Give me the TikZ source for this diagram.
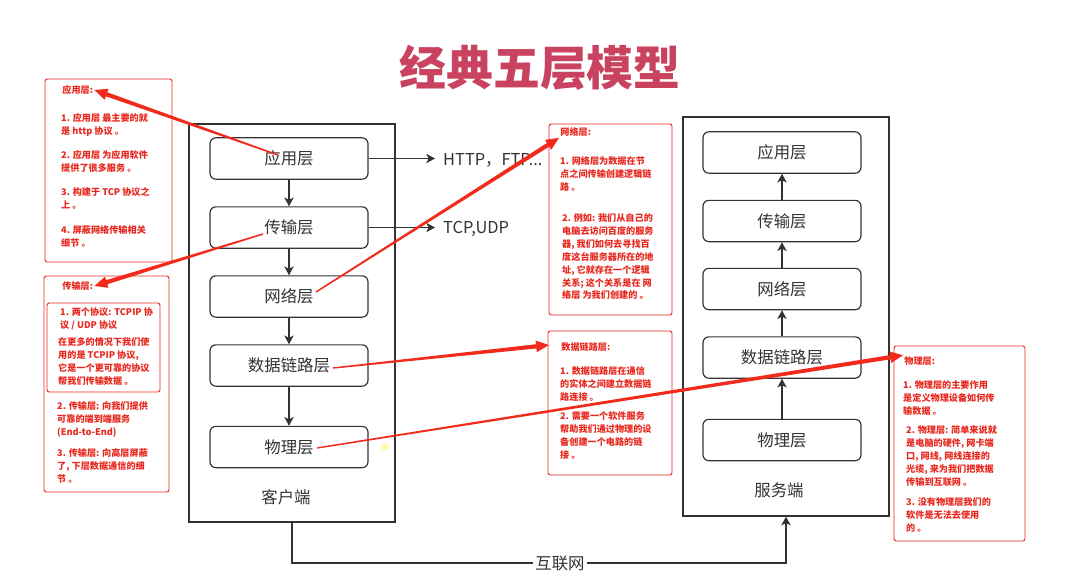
\documentclass[tikz,border=0pt]{standalone}
\usepackage{fontspec}
\setmainfont{Noto Sans CJK SC}
\usetikzlibrary{arrows.meta,calc}

\definecolor{titlered}{HTML}{C94360}
\definecolor{notered}{HTML}{E8281E}
\definecolor{arrowred}{HTML}{F22A1C}
\definecolor{linegray}{HTML}{333333}
\definecolor{textgray}{HTML}{333333}

\newcommand{\notefont}{\bfseries\fontsize{7.8}{11}\selectfont}
\newcommand{\layerfont}{\fontsize{14}{16}\selectfont}

% red callout, thin at the start and wide at the head
\newcommand{\callout}[2]{%
  \coordinate (cb) at ($(#2)!11pt!(#1)$);
  \fill[arrowred] ($(#1)!0.6pt!90:(#2)$) -- ($(cb)!1.8pt!-90:(#1)$)
    -- ($(cb)!5pt!-90:(#1)$) -- (#2) -- ($(cb)!5pt!90:(#1)$)
    -- ($(cb)!1.8pt!90:(#1)$) -- ($(#1)!0.6pt!-90:(#2)$) -- cycle;
}

\begin{document}
\begin{tikzpicture}[x=0.03cm, y=-0.03cm,
    layer/.style={draw=linegray, line width=1pt, rounded corners=5pt,
      minimum width=4.74cm, minimum height=1.24cm, font=\layerfont, text=textgray},
    side/.style={draw=linegray, line width=1pt, minimum width=6.18cm, inner sep=0pt},
    flow/.style={draw=linegray, line width=1pt, -{Stealth[length=7.5pt,width=8pt,inset=2pt]}},
    plain/.style={font=\layerfont, text=textgray},
    notebox/.style={draw=notered, line width=0.8pt, rounded corners=2pt},
    notetitle/.style={anchor=west, inner sep=1pt, font=\notefont, text=notered},
    notetext/.style={anchor=north west, inner sep=0pt, align=left, font=\notefont, text=notered}]

    \useasboundingbox[fill=white] (0,0) rectangle (1078,583);

    %----- TITLE -----
    \node[font=\bfseries\fontsize{40}{44}\selectfont, text=titlered] (title) at (540,68) {经典五层模型};

    %----- CLIENT STACK -----
    \node[side, minimum height=11.94cm] (client) at (292,323) {};
    \node[layer] (cA) at (289,158.5) {应用层};
    \node[layer] (cT) at (289,227.5) {传输层};
    \node[layer] (cN) at (289,296.5) {网络层};
    \node[layer] (cD) at (289,365.5) {数据链路层};
    \node[layer] (cP) at (289,447) {物理层};
    \node[plain] (cLabel) at (286,497) {客户端};

    \foreach \a/\b in {cA/cT, cT/cN, cN/cD, cD/cP}
        \draw[flow] (\a) -- (\b);

    %----- SERVER STACK -----
    \node[side, minimum height=11.97cm] (server) at (786,316.5) {};
    \node[layer] (sA) at (782,152.5) {应用层};
    \node[layer] (sT) at (782,221) {传输层};
    \node[layer] (sN) at (782,289) {网络层};
    \node[layer] (sD) at (782,357.5) {数据链路层};
    \node[layer] (sP) at (782,440) {物理层};
    \node[plain] (sLabel) at (779,490) {服务端};

    \foreach \a/\b in {sP/sD, sD/sN, sN/sT, sT/sA}
        \draw[flow] (\a) -- (\b);

    %----- PROTOCOLS -----
    \node[plain, anchor=west, inner ysep=0pt, inner xsep=0.24cm] (http) at (435,160) {HTTP，FTP...};
    \node[plain, anchor=west, inner ysep=0pt, inner xsep=0.24cm] (tcp) at (435,229) {TCP,UDP};
    \draw[flow] (cA.east) -- (cA.east -| http.west);
    \draw[flow] (cT.east) -- (cT.east -| tcp.west);

    %----- INTERNET -----
    \node[plain, fill=white, inner sep=2pt] (net) at (560,563) {互联网};
    \draw[linegray, line width=1pt] (client.south) |- (net.west);
    \draw[flow] (net.east) -| (server.south);

    % cursor mark
    \fill[yellow!60, opacity=0.5] (385,447) circle (4);

    %----- NOTE: APPLICATION -----
    \draw[notebox] (45,79) rectangle (172,262);
    \node[notetitle] (tA) at (61,90) {应用层:};
    \node[notetext] (pA1) at (61,113.5) {1. 应用层 最主要的就\\是 http 协议 。};
    \node[notetext] (pA2) at (61,150.5) {2. 应用层 为应用软件\\提供了很多服务 。};
    \node[notetext] (pA3) at (61,187.5) {3. 构建于 TCP 协议之\\上 。};
    \node[notetext] (pA4) at (61,225.5) {4. 屏蔽网络传输相关\\细节 。};

    %----- NOTE: TRANSPORT -----
    \draw[notebox] (44,276) rectangle (169,492);
    \draw[notebox] (47,303) rectangle (160,392);
    \node[notetitle] (tT) at (61,286) {传输层:};
    \node[notetext] (pT1) at (60,307.5) {1. 两个协议: TCPIP 协\\议 / UDP 协议};
    \node[notetext] (pT2) at (58,337.5) {在更多的情况下我们使\\用的是 TCPIP 协议,\\它是一个更可靠的协议\\帮我们传输数据 。};
    \node[notetext] (pT3) at (57,401.5) {2. 传输层: 向我们提供\\可靠的端到端服务\\(End-to-End)};
    \node[notetext] (pT4) at (57,448.5) {3. 传输层: 向高层屏蔽\\了, 下层数据通信的细\\节 。};

    %----- NOTE: NETWORK -----
    \draw[notebox] (549,124) rectangle (672,315);
    \node[notetitle] (tN) at (559,132) {网络层:};
    \node[notetext] (pN1) at (560,156.5) {1. 网络层为数据在节\\点之间传输创建逻辑链\\路 。};
    \node[notetext] (pN2) at (562,213.5) {2. 例如: 我们从自己的\\电脑去访问百度的服务\\器, 我们如何去寻找百\\度这台服务器所在的地\\址, 它就存在一个逻辑\\关系; 这个关系是在 网\\络层 为我们创建的 。};

    %----- NOTE: DATA LINK -----
    \draw[notebox] (548,331) rectangle (672,475);
    \node[notetitle] (tD) at (560,347) {数据链路层:};
    \node[notetext] (pD1) at (560,366.5) {1. 数据链路层在通信\\的实体之间建立数据链\\路连接 。};
    \node[notetext] (pD2) at (560,411.5) {2. 需要一个软件服务\\帮助我们通过物理的设\\备创建一个电路的链\\接 。};

    %----- NOTE: PHYSICAL -----
    \draw[notebox] (894,346) rectangle (1025,541);
    \node[notetitle] (tP) at (903,361) {物理层:};
    \node[notetext] (pP1) at (903,380.5) {1. 物理层的主要作用\\是定义物理设备如何传\\输数据 。};
    \node[notetext] (pP2) at (906,425.5) {2. 物理层: 简单来说就\\是电脑的硬件, 网卡端\\口, 网线, 网线连接的\\光缆, 来为我们把数据\\传输到互联网 。};
    \node[notetext] (pP3) at (906,497.5) {3. 没有物理层我们的\\软件是无法去使用\\的 。};

    %----- RED CALLOUTS -----
    \coordinate (fromA) at (278,155);
    \coordinate (fromT) at (263,234);
    \coordinate (fromN) at (316,292);
    \coordinate (fromD) at (333,368);
    \coordinate (fromP) at (317,448);
    \coordinate (toD) at (549,345);

    \callout{fromA}{tA.east}
    \callout{fromT}{tT.east}
    \callout{fromN}{tN.south west}
    \callout{fromD}{toD}
    \callout{fromP}{tP.north west}

\end{tikzpicture}
\end{document}
